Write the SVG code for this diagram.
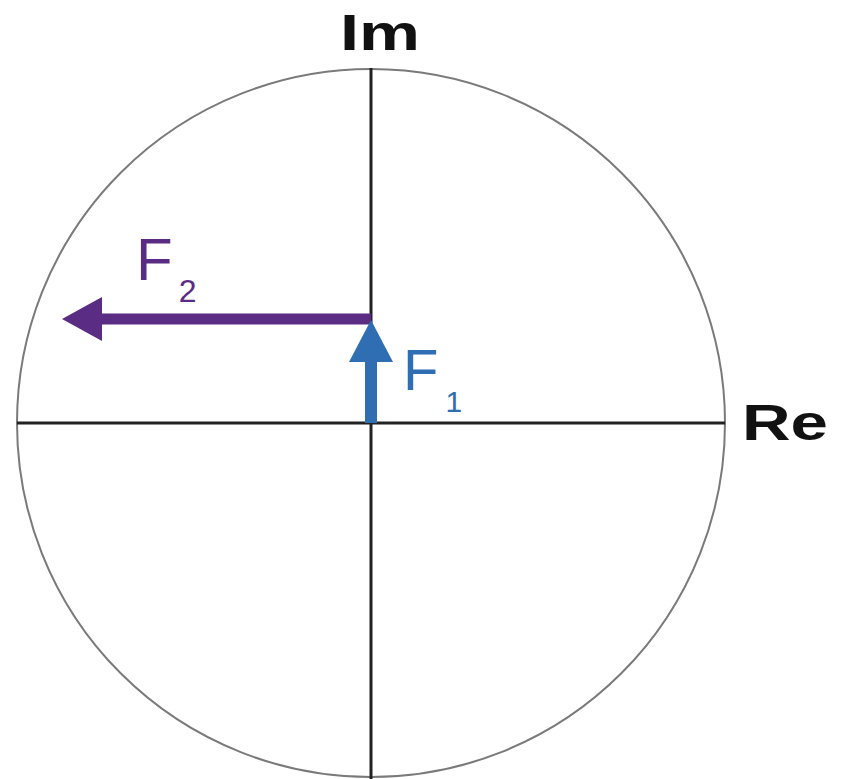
<svg xmlns="http://www.w3.org/2000/svg" width="846" height="779" viewBox="0 0 846 779">
<style>
.lbl{font-family:"Liberation Sans",Arial,sans-serif;}
.axis{stroke:#222;stroke-width:3;fill:none;}
</style>
<rect width="846" height="779" fill="#fff"/>
<g id="circle"><circle cx="371" cy="423" r="354" fill="none" stroke="#7a7a7a" stroke-width="2"/></g>
<g id="axes">
<line class="axis" x1="371" y1="68" x2="371" y2="779"/>
<line class="axis" x1="17" y1="423" x2="725" y2="423"/>
</g>
<g id="connectors">
<g id="F2-arrow">
<line x1="371" y1="319" x2="100" y2="319" stroke="#5b2c83" stroke-width="11"/>
<polygon points="62,319 102,297 102,341" fill="#5b2c83"/>
</g>
<g id="F1-arrow">
<line x1="371" y1="423" x2="371" y2="358" stroke="#2f6eb2" stroke-width="12"/>
<polygon points="371,320 349,362 393,362" fill="#2f6eb2"/>
</g>
</g>
<g id="label-Im"><text class="lbl" x="340" y="50" font-size="50" font-weight="bold" fill="#111" textLength="80" lengthAdjust="spacingAndGlyphs">Im</text></g>
<g id="label-Re"><text class="lbl" x="742" y="440" font-size="50" font-weight="bold" fill="#111" textLength="86" lengthAdjust="spacingAndGlyphs">Re</text></g>
<g id="label-F2"><text class="lbl" x="136" y="280" font-size="60" fill="#5b2c83">F<tspan font-size="32" dx="6" dy="22">2</tspan></text></g>
<g id="label-F1"><text class="lbl" x="403" y="390" font-size="58" fill="#2f6eb2">F<tspan font-size="30" dx="7" dy="22">1</tspan></text></g>
</svg>
